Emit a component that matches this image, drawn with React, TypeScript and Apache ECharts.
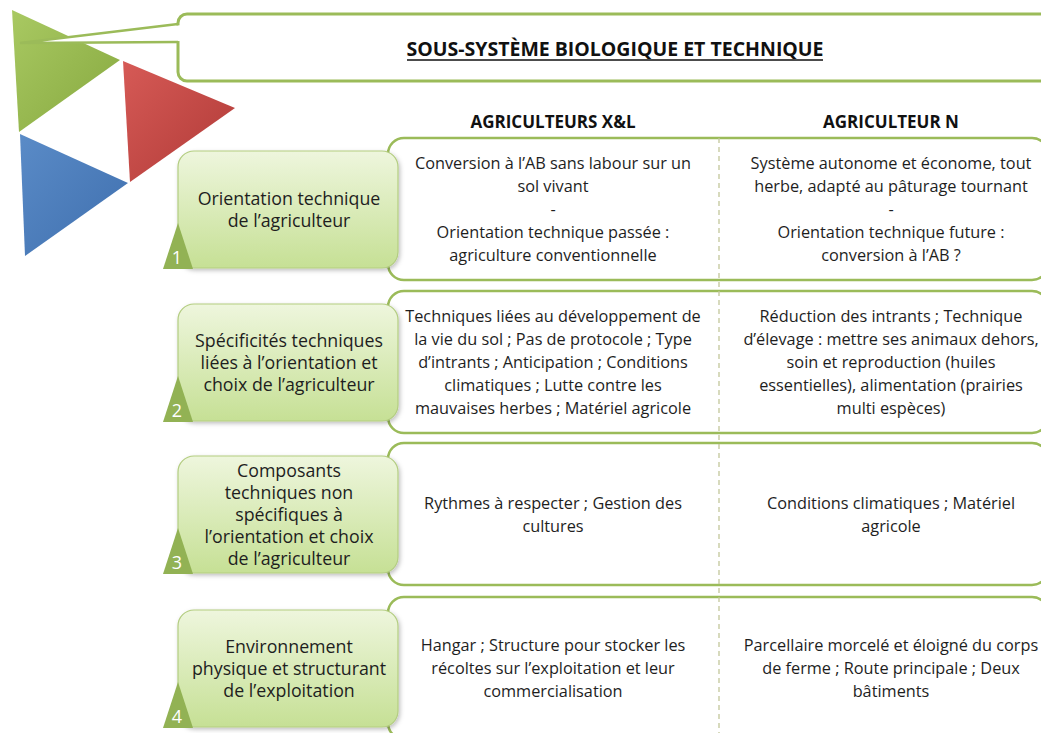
import React, { useEffect, useRef } from "react";
import * as echarts from "echarts";

const titleText = "SOUS-SYSTÈME BIOLOGIQUE ET TECHNIQUE";
const columnHeaders = ["AGRICULTEURS X&L", "AGRICULTEUR N"];
const rowNumbers = ["1", "2", "3", "4"];
const rowLabels = [
  "Orientation technique\nde l’agriculteur",
  "Spécificités techniques\nliées à l’orientation et\nchoix de l’agriculteur",
  "Composants\ntechniques non\nspécifiques à\nl’orientation et choix\nde l’agriculteur",
  "Environnement\nphysique et structurant\nde l’exploitation",
];
const xlTexts = [
  "Conversion à l’AB sans labour sur un\nsol vivant\n-\nOrientation technique passée :\nagriculture conventionnelle",
  "Techniques liées au développement de\nla vie du sol ; Pas de protocole ; Type\nd’intrants ; Anticipation ; Conditions\nclimatiques ; Lutte contre les\nmauvaises herbes ; Matériel agricole",
  "Rythmes à respecter ; Gestion des\ncultures",
  "Hangar ; Structure pour stocker les\nrécoltes sur l’exploitation et leur\ncommercialisation",
];
const nTexts = [
  "Système autonome et économe, tout\nherbe, adapté au pâturage tournant\n-\nOrientation technique future :\nconversion à l’AB ?",
  "Réduction des intrants ; Technique\nd’élevage : mettre ses animaux dehors,\nsoin et reproduction (huiles\nessentielles), alimentation (prairies\nmulti espèces)",
  "Conditions climatiques ; Matériel\nagricole",
  "Parcellaire morcelé et éloigné du corps\nde ferme ; Route principale ; Deux\nbâtiments",
];

const FONT = "'Open Sans', Lato, sans-serif";
const GREEN = "#9bbb59";

export default function App() {
  const ref = useRef<HTMLDivElement>(null);
  useEffect(() => {
    if (!ref.current) return;
    const chart = echarts.init(ref.current, null, { renderer: "svg" });
    const els: any[] = [];

    // Logo triangles
    const tri = (pts: number[][], c1: string, c2: string) => ({
      type: "polygon",
      shape: { points: pts },
      style: {
        fill: new echarts.graphic.LinearGradient(0, 0, 1, 1, [
          { offset: 0, color: c1 },
          { offset: 1, color: c2 },
        ]),
      },
    });
    els.push(tri([[12, 10], [120, 60], [19, 132]], "#a9c962", "#86a83f"));
    els.push(tri([[123, 61], [235, 108], [130, 182]], "#d65a56", "#b03a37"));
    els.push(tri([[20, 134], [128, 183], [25, 256]], "#5a8bc7", "#3f6fae"));

    // Title callout
    els.push({
      type: "rect",
      shape: { x: 178, y: 14, width: 900, height: 67, r: 9 },
      style: { fill: "#fff", stroke: GREEN, lineWidth: 3 },
    });
    els.push({
      type: "polygon",
      shape: { points: [[182, 25], [20, 43], [182, 41]] },
      style: { fill: "#fff" },
    });
    els.push({
      type: "polyline",
      shape: { points: [[178, 24], [20, 43], [178, 42]] },
      style: { stroke: GREEN, lineWidth: 2.5, fill: null },
    });
    els.push({
      type: "text",
      x: 615,
      y: 48,
      style: {
        text: titleText,
        fontFamily: FONT,
        fontWeight: "bold",
        fontSize: 19.5,
        fill: "#111",
        align: "center",
        verticalAlign: "middle",
      },
    });
    els.push({
      type: "line",
      shape: { x1: 407, y1: 60, x2: 823, y2: 60 },
      style: { stroke: "#111", lineWidth: 1.4 },
    });

    // Column headers
    const colX = [553, 891];
    columnHeaders.forEach((h, i) => {
      els.push({
        type: "text",
        x: colX[i],
        y: 121,
        style: {
          text: h,
          fontFamily: FONT,
          fontWeight: "bold",
          fontSize: 17,
          fill: "#111",
          align: "center",
          verticalAlign: "middle",
        },
      });
    });

    const rowCenters = [209, 362, 514, 668];

    // Right panels
    rowCenters.forEach((cy) => {
      els.push({
        type: "rect",
        shape: { x: 388, y: cy - 71, width: 660, height: 142, r: 16 },
        style: { fill: "#fff", stroke: GREEN, lineWidth: 2.5 },
      });
    });

    // Dashed divider
    els.push({
      type: "line",
      shape: { x1: 719, y1: 138, x2: 719, y2: 733 },
      style: { stroke: "#c3c79a", lineWidth: 1.3, lineDash: [5, 4] },
    });

    // Left green boxes
    rowCenters.forEach((cy, i) => {
      const top = cy - 58;
      const bottom = top + 117;
      els.push({
        type: "rect",
        shape: { x: 178, y: top, width: 220, height: 117, r: 16 },
        style: {
          fill: new echarts.graphic.LinearGradient(0, 0, 0, 1, [
            { offset: 0, color: "#eef6dd" },
            { offset: 1, color: "#c6e095" },
          ]),
          stroke: "#b3cd80",
          lineWidth: 1.2,
          shadowBlur: 4,
          shadowOffsetX: 1.5,
          shadowOffsetY: 2,
          shadowColor: "rgba(0,0,0,0.25)",
        },
      });
      els.push({
        type: "polygon",
        shape: { points: [[163, bottom + 1], [178, bottom - 45], [193, bottom + 1]] },
        style: { fill: "#92b254" },
      });
      els.push({
        type: "text",
        x: 177,
        y: bottom - 11,
        style: {
          text: rowNumbers[i],
          fontFamily: FONT,
          fontSize: 18,
          fill: "#fff",
          align: "center",
          verticalAlign: "middle",
        },
      });
      els.push({
        type: "text",
        x: 289,
        y: cy,
        style: {
          text: rowLabels[i],
          fontFamily: FONT,
          fontSize: 17.8,
          lineHeight: 22,
          fill: "#1e1e1e",
          align: "center",
          verticalAlign: "middle",
        },
      });
      [xlTexts[i], nTexts[i]].forEach((t, c) => {
        els.push({
          type: "text",
          x: colX[c],
          y: cy,
          style: {
            text: t,
            fontFamily: FONT,
            fontSize: 16.3,
            lineHeight: 23,
            fill: "#1e1e1e",
            align: "center",
            verticalAlign: "middle",
          },
        });
      });
    });

    chart.setOption({
      animation: false,
      backgroundColor: "#fff",
      graphic: { elements: els },
    });
    return () => chart.dispose();
  }, []);
  return <div ref={ref} style={{ width: 1041, height: 733, position: "absolute", left: 0, top: 0 }} />;
}
